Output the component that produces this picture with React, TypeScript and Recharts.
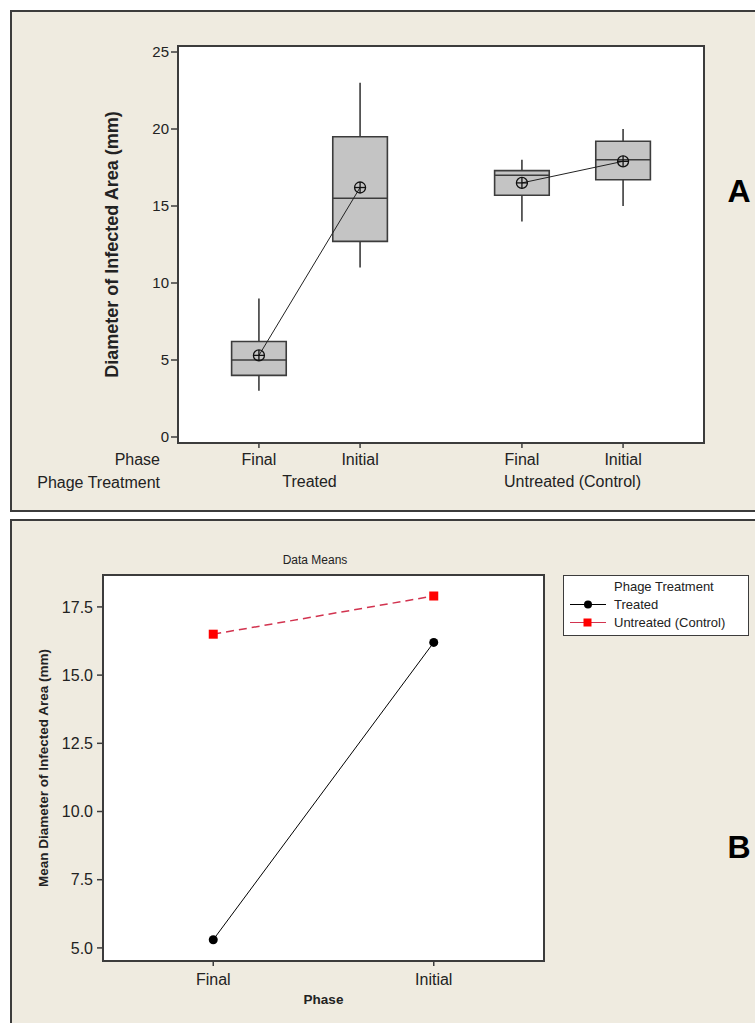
import React from 'react';
import { ComposedChart, Line, XAxis, YAxis, ReferenceArea, ReferenceLine, Legend } from 'recharts';

const FONT = '"Liberation Sans", Arial, sans-serif';
const INK = '#222';
const FRAME = '#3c3c3c';
const PANEL_BG = '#efebe0';

const phases = ['Final', 'Initial'];
const treatments = ['Treated', 'Untreated (Control)'];

// panel A boxes, in order: Treated/Final, Treated/Initial, Untreated/Final, Untreated/Initial
const boxPos = [1, 2, 3.6, 4.6];
const boxMin = [3, 11, 14, 15];
const boxQ1 = [4, 12.7, 15.7, 16.7];
const boxMedian = [5, 15.5, 17, 18];
const boxQ3 = [6.2, 19.5, 17.3, 19.2];
const boxMax = [9, 23, 18, 20];
const boxMean = [5.3, 16.2, 16.5, 17.9];
const groupPos = [1.5, 4.1];
const yTicksA = [0, 5, 10, 15, 20, 25];

// panel B means
const phasePosB = [1, 2];
const meansTreated = [5.3, 16.2];
const meansUntreated = [16.5, 17.9];
const yTicksB = [5, 7.5, 10, 12.5, 15, 17.5];

const BOX_HALF = 0.27;

const treatedMeanData = [0, 1].map((i) => ({ pos: boxPos[i], mean: boxMean[i] }));
const untreatedMeanData = [2, 3].map((i) => ({ pos: boxPos[i], mean: boxMean[i] }));
// group centres, tied to the treatment axis so it gets its ticks
const groupAnchorData = groupPos.map((p, i) => ({ pos: p, mean: (boxMean[2 * i] + boxMean[2 * i + 1]) / 2 }));
const dataB = phases.map((p, i) => ({
  pos: phasePosB[i],
  treated: meansTreated[i],
  untreated: meansUntreated[i],
}));

const MeanMarker = (props: any) => {
  const { cx, cy, index } = props;
  if (cx == null || cy == null) return <g key={index} />;
  const r = 5.5;
  return (
    <g key={index}>
      <circle cx={cx} cy={cy} r={r} fill="none" stroke="#111" strokeWidth={1.3} />
      <line x1={cx - r} x2={cx + r} y1={cy} y2={cy} stroke="#111" strokeWidth={1.3} />
      <line x1={cx} x2={cx} y1={cy - r} y2={cy + r} stroke="#111" strokeWidth={1.3} />
    </g>
  );
};

const RoundDot = (props: any) => {
  const { cx, cy, index } = props;
  if (cx == null || cy == null) return <g key={index} />;
  return <circle key={index} cx={cx} cy={cy} r={4.5} fill="#000" />;
};

const SquareDot = (props: any) => {
  const { cx, cy, index } = props;
  if (cx == null || cy == null) return <g key={index} />;
  return <rect key={index} x={cx - 4.5} y={cy - 4.5} width={9} height={9} fill="#ff0000" />;
};

const RED_LINE = '#d2334f';

const LegendBox = (props: any) => {
  const items = props.payload || [];
  return (
    <div
      style={{
        width: 186,
        height: 61,
        boxSizing: 'border-box',
        border: `1.5px solid ${FRAME}`,
        background: '#fff',
        fontFamily: FONT,
        fontSize: 13,
        color: INK,
        position: 'relative',
      }}
    >
      <div style={{ position: 'absolute', left: 50, top: 4, lineHeight: '13px' }}>Phage Treatment</div>
      {items.map((it: any, i: number) => {
        const red = it.dataKey === 'untreated';
        return (
          <div key={i} style={{ position: 'absolute', left: 0, top: 22 + i * 18, height: 13, width: 186 }}>
            <svg width={44} height={13} style={{ position: 'absolute', left: 4, top: 0 }}>
              <line x1={2} x2={38} y1={6.5} y2={6.5} stroke={red ? RED_LINE : '#000'} strokeWidth={1.2} />
              {red ? (
                <rect x={15.5} y={2.5} width={8} height={8} fill="#ff0000" />
              ) : (
                <circle cx={20} cy={6.5} r={4} fill="#000" />
              )}
            </svg>
            <div style={{ position: 'absolute', left: 50, top: 0, lineHeight: '13px' }}>{it.value}</div>
          </div>
        );
      })}
    </div>
  );
};

const abs = (s: React.CSSProperties): React.CSSProperties => ({ position: 'absolute', ...s });

export default function App() {
  const tickA = { fill: INK, fontSize: 15, fontFamily: FONT };
  const tickRow = { fill: INK, fontSize: 16, fontFamily: FONT };
  return (
    <div style={abs({ left: 0, top: 0, width: 755, height: 1023, overflow: 'hidden', background: '#fff', fontFamily: FONT })}>
      <div style={abs({ left: 10, top: 10, width: 800, height: 502, boxSizing: 'border-box', border: `2px solid ${FRAME}`, background: PANEL_BG })} />
      <div style={abs({ left: 10, top: 519, width: 800, height: 600, boxSizing: 'border-box', border: `2px solid ${FRAME}`, background: PANEL_BG })} />

      {/* panel A */}
      <div style={abs({ left: 177, top: 45, width: 528, height: 399, boxSizing: 'border-box', border: `2px solid ${FRAME}`, background: '#fff' })} />
      <div style={abs({ left: 0, top: 0 })}>
        <ComposedChart width={755} height={512} margin={{ top: 46, right: 51, bottom: 25, left: 78 }}>
          <XAxis
            xAxisId="axisPhase"
            dataKey="pos"
            type="number"
            domain={[0.2, 5.4]}
            allowDataOverflow
            ticks={boxPos}
            tickFormatter={(v: number) => phases[boxPos.indexOf(v) % 2]}
            height={22}
            tickSize={5}
            tickMargin={6}
            axisLine={false}
            tickLine={{ stroke: FRAME, strokeWidth: 1.5 }}
            tick={tickRow}
            interval={0}
          />
          <XAxis
            xAxisId="axisTreatment"
            dataKey="pos"
            type="number"
            domain={[0.2, 5.4]}
            allowDataOverflow
            ticks={groupPos}
            tickFormatter={(v: number) => treatments[groupPos.indexOf(v)]}
            height={22}
            tickSize={0}
            tickMargin={11}
            axisLine={false}
            tickLine={false}
            tick={tickRow}
            interval={0}
          />
          <YAxis
            type="number"
            domain={[-0.39, 25.39]}
            allowDataOverflow
            ticks={yTicksA}
            width={100}
            tickSize={7}
            tickMargin={2}
            axisLine={false}
            tickLine={{ stroke: FRAME, strokeWidth: 1.5 }}
            tick={tickA}
            interval={0}
            label={{
              value: 'Diameter of Infected Area (mm)',
              angle: -90,
              position: 'insideLeft',
              offset: 34,
              style: { textAnchor: 'middle', fontWeight: 'bold', fontSize: 18, fill: INK, fontFamily: FONT },
            }}
          />
          {boxPos.map((p, i) => (
            <ReferenceArea
              key={`box${i}`}
              xAxisId="axisPhase"
              x1={p - BOX_HALF}
              x2={p + BOX_HALF}
              y1={boxQ1[i]}
              y2={boxQ3[i]}
              fill="#c4c4c4"
              fillOpacity={1}
              stroke={FRAME}
              strokeWidth={1.6}
            />
          ))}
          {boxPos.map((p, i) => (
            <ReferenceLine
              key={`wt${i}`}
              xAxisId="axisPhase"
              segment={[{ x: p, y: boxQ3[i] }, { x: p, y: boxMax[i] }]}
              stroke={FRAME}
              strokeWidth={1.6}
            />
          ))}
          {boxPos.map((p, i) => (
            <ReferenceLine
              key={`wb${i}`}
              xAxisId="axisPhase"
              segment={[{ x: p, y: boxMin[i] }, { x: p, y: boxQ1[i] }]}
              stroke={FRAME}
              strokeWidth={1.6}
            />
          ))}
          {boxPos.map((p, i) => (
            <ReferenceLine
              key={`md${i}`}
              xAxisId="axisPhase"
              segment={[{ x: p - BOX_HALF, y: boxMedian[i] }, { x: p + BOX_HALF, y: boxMedian[i] }]}
              stroke={FRAME}
              strokeWidth={1.6}
            />
          ))}
          <Line
            xAxisId="axisTreatment"
            data={groupAnchorData}
            dataKey="mean"
            stroke="none"
            dot={false}
            activeDot={false}
            legendType="none"
            isAnimationActive={false}
          />
          <Line
            xAxisId="axisPhase"
            data={treatedMeanData}
            dataKey="mean"
            type="linear"
            stroke="#222"
            strokeWidth={1}
            dot={MeanMarker}
            activeDot={false}
            isAnimationActive={false}
          />
          <Line
            xAxisId="axisPhase"
            data={untreatedMeanData}
            dataKey="mean"
            type="linear"
            stroke="#222"
            strokeWidth={1}
            dot={MeanMarker}
            activeDot={false}
            isAnimationActive={false}
          />
        </ComposedChart>
      </div>
      <div style={abs({ left: 0, top: 452, width: 160, textAlign: 'right', fontSize: 16, lineHeight: '16px', color: INK })}>Phase</div>
      <div style={abs({ left: 0, top: 475, width: 160, textAlign: 'right', fontSize: 16, lineHeight: '16px', color: INK })}>Phage Treatment</div>
      <div style={abs({ left: 719, top: 175, width: 40, textAlign: 'center', fontSize: 32, lineHeight: '32px', fontWeight: 'bold', color: '#000' })}>A</div>

      {/* panel B */}
      <div style={abs({ left: 215, top: 554, width: 200, textAlign: 'center', fontSize: 12, lineHeight: '12px', color: INK })}>Data Means</div>
      <div style={abs({ left: 102, top: 574, width: 443, height: 388, boxSizing: 'border-box', border: `2px solid ${FRAME}`, background: '#fff' })} />
      <div style={abs({ left: 0, top: 520 })}>
        <ComposedChart width={755} height={503} data={dataB} margin={{ top: 55, right: 211, bottom: 12, left: 13 }}>
          <XAxis
            dataKey="pos"
            type="number"
            domain={[0.5, 2.5]}
            allowDataOverflow
            ticks={phasePosB}
            tickFormatter={(v: number) => phases[phasePosB.indexOf(v)]}
            height={50}
            tickSize={5}
            tickMargin={8}
            axisLine={false}
            tickLine={{ stroke: FRAME, strokeWidth: 1.5 }}
            tick={{ fill: INK, fontSize: 16, fontFamily: FONT }}
            interval={0}
            label={{
              value: 'Phase',
              position: 'insideBottom',
              offset: 7,
              style: { fontWeight: 'bold', fontSize: 13.5, fill: INK, fontFamily: FONT },
            }}
          />
          <YAxis
            type="number"
            domain={[4.52, 18.67]}
            allowDataOverflow
            ticks={yTicksB}
            tickFormatter={(v: number) => v.toFixed(1)}
            width={90}
            tickSize={6}
            tickMargin={4}
            axisLine={false}
            tickLine={{ stroke: FRAME, strokeWidth: 1.5 }}
            tick={{ fill: INK, fontSize: 16, fontFamily: FONT }}
            interval={0}
            label={{
              value: 'Mean Diameter of Infected Area (mm)',
              angle: -90,
              position: 'insideLeft',
              offset: 30,
              style: { textAnchor: 'middle', fontWeight: 'bold', fontSize: 13.5, fill: INK, fontFamily: FONT },
            }}
          />
          <Legend
            layout="vertical"
            align="center"
            verticalAlign="middle"
            wrapperStyle={{ position: 'absolute', left: 563, top: 55, width: 186, height: 61 }}
            content={LegendBox}
          />
          <Line
            name="Treated"
            dataKey="treated"
            type="linear"
            stroke="#000"
            strokeWidth={1}
            dot={RoundDot}
            activeDot={false}
            isAnimationActive={false}
          />
          <Line
            name="Untreated (Control)"
            dataKey="untreated"
            type="linear"
            stroke={RED_LINE}
            strokeWidth={1.5}
            strokeDasharray="8 5"
            dot={SquareDot}
            activeDot={false}
            isAnimationActive={false}
          />
        </ComposedChart>
      </div>
      <div style={abs({ left: 719, top: 831, width: 40, textAlign: 'center', fontSize: 32, lineHeight: '32px', fontWeight: 'bold', color: '#000' })}>B</div>
    </div>
  );
}
